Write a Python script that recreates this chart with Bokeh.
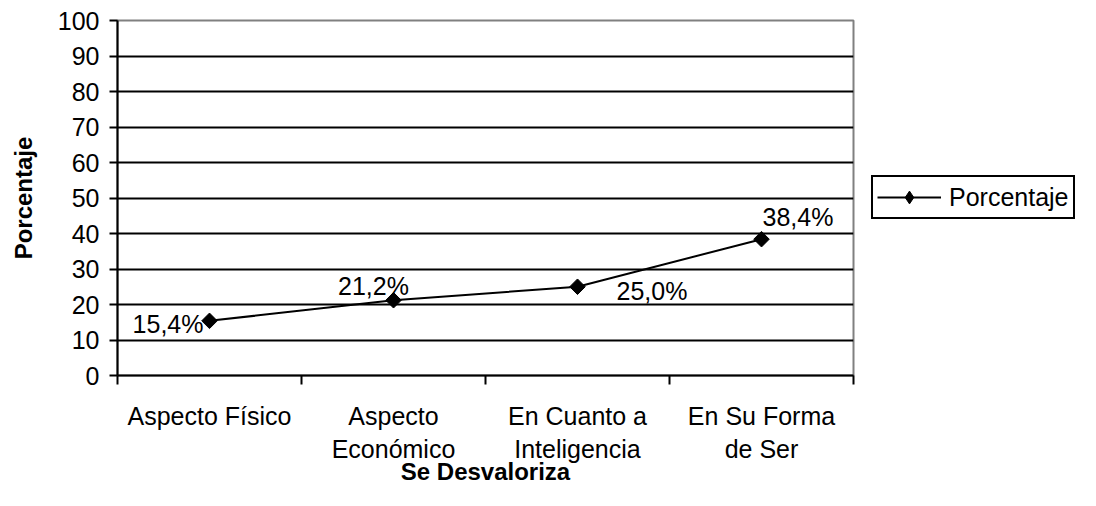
import numpy as np
from bokeh.plotting import figure
from bokeh.layouts import row
from bokeh.models import (FixedTicker, Legend, LegendItem, ColumnDataSource, LabelSet)
from bokeh.core.properties import value
from bokeh.embed import file_html
from bokeh.resources import INLINE

categories = ["Aspecto Físico", "Aspecto\nEconómico", "En Cuanto a\nInteligencia", "En Su Forma\nde Ser"]
values = [15.4, 21.2, 25.0, 38.4]
y_ticks = [0, 10, 20, 30, 40, 50, 60, 70, 80, 90, 100]
series_name = "Porcentaje"
x_title = "Se Desvaloriza"
y_title = "Porcentaje"

# label offsets (screen px) and alignment per point
lab_dx = [-6, -20, 39, 1]
lab_dy = [-3, 14, -4, 22]
lab_align = ["right", "center", "left", "left"]

FONT = "Liberation Sans"
FS = "25px"
H = 490

xs = [i + 0.5 for i in range(len(categories))]
labels = [("%.1f%%" % v).replace(".", ",") for v in values]

p = figure(width=863, height=H, x_range=(0, len(categories)), y_range=(0, 100),
           output_backend="svg", toolbar_location=None,
           min_border_left=117, min_border_right=10, min_border_top=20, min_border_bottom=115)
p.background_fill_color = "white"
p.border_fill_color = "white"
p.outline_line_color = "#808080"
p.outline_line_width = 2

# grid
p.xgrid.grid_line_color = None
p.ygrid.ticker = FixedTicker(ticks=y_ticks[1:-1])
p.ygrid.grid_line_color = "black"
p.ygrid.grid_line_width = 2

# y axis
ya = p.yaxis[0]
ya.ticker = FixedTicker(ticks=y_ticks)
ya.axis_line_color = "black"
ya.axis_line_width = 2
ya.major_tick_line_color = "black"
ya.major_tick_line_width = 2
ya.major_tick_out = 8
ya.major_tick_in = 0
ya.minor_tick_line_color = None
ya.major_label_text_font = FONT
ya.major_label_text_font_size = FS
ya.major_label_text_color = "black"
ya.major_label_standoff = 10
ya.axis_label = y_title
ya.axis_label_text_font = FONT
ya.axis_label_text_font_size = "24px"
ya.axis_label_text_font_style = "bold"
ya.axis_label_text_color = "black"
ya.axis_label_standoff = 18

# x axis
xa = p.xaxis[0]
xa.ticker = FixedTicker(ticks=xs, minor_ticks=list(range(len(categories) + 1)))
xa.major_label_overrides = {x: c for x, c in zip(xs, categories)}
xa.axis_line_color = "black"
xa.axis_line_width = 2
xa.major_tick_line_color = None
xa.major_tick_out = 8
xa.major_tick_in = 0
xa.minor_tick_line_color = "black"
xa.minor_tick_line_width = 2
xa.minor_tick_out = 9
xa.minor_tick_in = 0
xa.major_label_text_font = FONT
xa.major_label_text_font_size = FS
xa.major_label_text_color = "black"
xa.major_label_standoff = 17
xa.axis_label = x_title
xa.axis_label_text_font = FONT
xa.axis_label_text_font_size = "24px"
xa.axis_label_text_font_style = "bold"
xa.axis_label_text_color = "black"
xa.axis_label_standoff = -8

src = ColumnDataSource(dict(x=xs, y=values, lab=labels, dx=lab_dx, dy=lab_dy, al=lab_align))
lr = p.line("x", "y", source=src, line_color="black", line_width=2)
sr = p.scatter("x", "y", source=src, marker="square", angle=np.pi / 4, size=11,
               fill_color="black", line_color="black")

ls = LabelSet(x="x", y="y", text="lab", x_offset="dx", y_offset="dy", text_align="al",
              text_baseline="middle", source=src, text_font=value(FONT), text_font_size=value(FS),
              text_color="black")
p.add_layout(ls)

# legend panel (separate figure so the legend can sit outside the plot area)
q = figure(width=1080 - 863, height=H, x_range=(0, 1), y_range=(0, 1),
           output_backend="svg", toolbar_location=None,
           x_axis_type=None, y_axis_type=None,
           min_border_left=0, min_border_right=0, min_border_top=0, min_border_bottom=0)
q.outline_line_color = None
q.xgrid.grid_line_color = None
q.ygrid.grid_line_color = None
dummy = ColumnDataSource(dict(x=[np.nan], y=[np.nan]))
ql = q.line("x", "y", source=dummy, line_color="black", line_width=2)
qs = q.scatter("x", "y", source=dummy, marker="diamond", size=17,
               fill_color="black", line_color="black")
legend = Legend(items=[LegendItem(label=series_name, renderers=[ql, qs])],
                location=(8, 156), orientation="vertical",
                border_line_color="black", border_line_width=2, border_line_alpha=1,
                background_fill_color="white", background_fill_alpha=1,
                label_text_font=FONT, label_text_font_size=FS, label_text_color="black",
                glyph_width=64, glyph_height=32, label_standoff=8, padding=4, spacing=0,
                margin=0)
q.add_layout(legend, "center")

layout = row(p, q)
open("out.html", "w").write(file_html(layout, INLINE))
